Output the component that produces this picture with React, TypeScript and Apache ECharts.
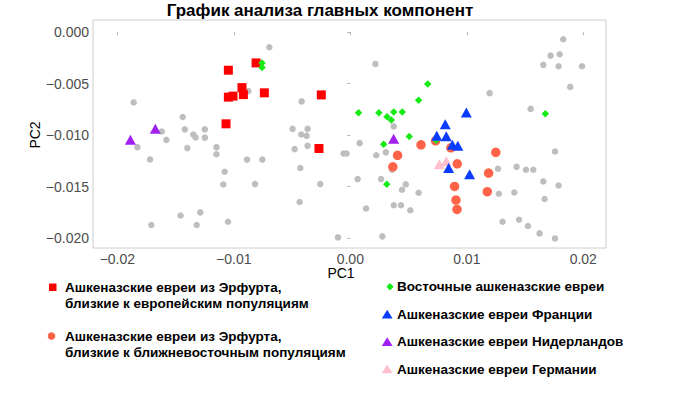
import { useEffect, useRef } from 'react';
import * as echarts from 'echarts';

const FONT = "'Liberation Sans', Arial, Helvetica, sans-serif";

const titleText = 'График анализа главных компонент';
const xAxisTitle = 'PC1';
const yAxisTitle = 'PC2';

const xTicks = [-0.02, -0.01, 0, 0.01, 0.02];
const yTicks = [-0.02, -0.015, -0.01, -0.005, 0];

const seriesNames = [
  'Ашкеназские евреи из Эрфурта,\nблизкие к европейским популяциям',
  'Ашкеназские евреи из Эрфурта,\nблизкие к ближневосточным популяциям',
  'Восточные ашкеназские евреи',
  'Ашкеназские евреи Франции',
  'Ашкеназские евреи Нидерландов',
  'Ашкеназские евреи Германии',
];

const otherPopulations: [number, number][] = [
  [-0.0186, -0.00682], [-0.01439, -0.00824], [-0.01618, -0.00965], [-0.01421, -0.00944],
  [-0.01249, -0.00944], [-0.01348, -0.00994], [-0.01328, -0.01023], [-0.01249, -0.01024],
  [-0.01579, -0.01046], [-0.01828, -0.01117], [-0.01399, -0.01126], [-0.01149, -0.01117],
  [-0.01149, -0.01186], [-0.01719, -0.01237], [-0.00887, -0.01238], [-0.00755, -0.01238],
  [-0.01079, -0.01356], [-0.0109, -0.0148], [-0.00818, -0.01476], [-0.01457, -0.01781],
  [-0.01288, -0.01751], [-0.01708, -0.01874], [-0.01319, -0.01874], [-0.0105, -0.01842],
  [-0.00876, -0.00572], [-0.00695, -0.00146], [-0.00418, -0.00672], [-0.00496, -0.00939],
  [-0.00367, -0.00939], [-0.00421, -0.00994], [-0.00375, -0.01007], [-0.00478, -0.01136],
  [-0.00367, -0.01104], [-0.00429, -0.0132], [-0.00258, -0.01476], [-0.00435, -0.0165],
  [-0.00058, -0.01179], [-0.00032, -0.01179], [0.0008, -0.01078], [0.00215, -0.00308],
  [0.00373, -0.00915], [0.00223, -0.01196], [0.00305, -0.01167], [0.00358, -0.01337],
  [0.00063, -0.01427], [0.00264, -0.01427], [0.00476, -0.01478], [0.00444, -0.01531],
  [0.00586, -0.0156], [0.00135, -0.01713], [0.00373, -0.01682], [0.00435, -0.01682],
  [0.00515, -0.0173], [-0.00106, -0.01994], [0.00275, -0.01984], [0.01196, -0.00592],
  [0.01548, -0.00745], [0.01828, -0.00068], [0.01719, -0.00227], [0.01797, -0.00214],
  [0.01657, -0.00317], [0.01788, -0.0033], [0.01989, -0.0033], [0.01888, -0.00531],
  [0.01757, -0.01159], [0.01268, -0.01327], [0.01427, -0.01308], [0.01508, -0.01337],
  [0.01571, -0.01337], [0.01657, -0.0145], [0.01788, -0.01489], [0.01275, -0.0157],
  [0.01408, -0.01557], [0.01668, -0.01621], [0.01307, -0.01842], [0.01448, -0.01822],
  [0.01525, -0.01883], [0.01625, -0.01955], [0.01757, -0.02004],
];

const erfurtEuropean: [number, number][] = [
  [-0.01047, -0.00369], [-0.00809, -0.00298], [-0.0093, -0.00538], [-0.01047, -0.00631],
  [-0.01007, -0.00621], [-0.00918, -0.00606], [-0.00738, -0.00589], [-0.00249, -0.00609],
  [-0.01067, -0.0089], [-0.00269, -0.0113],
];

const erfurtMiddleEast: [number, number][] = [
  [0.00607, -0.01094], [0.00732, -0.01055], [0.00863, -0.01123], [0.00406, -0.01196],
  [0.00365, -0.01308], [0.00918, -0.01279], [0.00895, -0.01499], [0.00907, -0.01631],
  [0.00916, -0.01722], [0.01187, -0.01369], [0.01176, -0.0155], [0.01249, -0.01167],
];

const easternAshkenazi: [number, number][] = [
  [-0.00758, -0.00298], [-0.00758, -0.00342], [0.00071, -0.00783], [0.00245, -0.00783],
  [0.00315, -0.00822], [0.00352, -0.00854], [0.00373, -0.00774], [0.00446, -0.00774],
  [0.00586, -0.00662], [0.00664, -0.00502], [0.00506, -0.01014], [0.00286, -0.01089],
  [0.00313, -0.01478], [0.00736, -0.0105], [0.01674, -0.00793],
];

const french: [number, number][] = [
  [0.00996, -0.00779], [0.00815, -0.00895], [0.00742, -0.01007], [0.00824, -0.01012],
  [0.00876, -0.01094], [0.00923, -0.01104], [0.00844, -0.0132], [0.01024, -0.01379],
];

const dutch: [number, number][] = [
  [-0.01888, -0.01046], [-0.01674, -0.00939], [0.00372, -0.01036],
];

const german: [number, number][] = [
  [0.00764, -0.01283], [0.00824, -0.01254],
];

const C_GRAY = '#bebebe';
const C_RED = '#ff0000';
const C_TOMATO = '#ff6347';
const C_GREEN = '#16ea16';
const C_BLUE = '#0a3cff';
const C_PURPLE = '#a020f0';
const C_PINK = '#ffc0cb';

const minus = (s: string) => s.replace('-', '\u2212');

export default function App() {
  const ref = useRef<HTMLDivElement>(null);
  useEffect(() => {
    document.body.style.margin = '0';
    const chart = echarts.init(ref.current!, null, { renderer: 'svg' });
    const legendFont = `bold 13.5px ${FONT}`;
    const lx = 65;
    const rx = 397;
    const scatter = (name: string, data: [number, number][], symbol: string, size: number | number[], color: string) => ({
      type: 'scatter', name, data, symbol, symbolSize: size,
      itemStyle: { color, opacity: 1 },
      emphasis: { disabled: true },
    });
    chart.setOption({
      animation: false,
      backgroundColor: '#ffffff',
      textStyle: { fontFamily: FONT },
      grid: {
        left: 93, right: 94, top: 20, bottom: 146,
        show: true, borderColor: '#cccccc', borderWidth: 1, backgroundColor: 'transparent',
      },
      xAxis: {
        type: 'value', min: -0.02209, max: 0.02195,
        axisLine: { show: false },
        splitLine: { show: false },
        axisTick: { show: true, length: 3, lineStyle: { color: '#b0b0b0' }, customValues: xTicks },
        axisLabel: {
          customValues: xTicks, color: '#4d4d4d', fontSize: 14, fontFamily: FONT, margin: 4,
          formatter: (v: number) => minus(v.toFixed(2)),
        },
      },
      yAxis: {
        type: 'value', min: -0.02097, max: 0.00119,
        axisLine: { show: false },
        splitLine: { show: false },
        axisTick: { show: true, length: 3, lineStyle: { color: '#b0b0b0' }, customValues: yTicks },
        axisLabel: {
          customValues: yTicks, color: '#4d4d4d', fontSize: 14, fontFamily: FONT, margin: 4,
          formatter: (v: number) => minus(v.toFixed(3)),
        },
      },
      series: [
        scatter('other', otherPopulations, 'circle', 6.5, C_GRAY),
        scatter(seriesNames[0], erfurtEuropean, 'rect', 9, C_RED),
        scatter(seriesNames[1], erfurtMiddleEast, 'circle', 9.5, C_TOMATO),
        scatter(seriesNames[2], easternAshkenazi, 'diamond', 7.5, C_GREEN),
        scatter(seriesNames[5], german, 'triangle', [11, 10], C_PINK),
        scatter(seriesNames[3], french, 'triangle', [11, 10], C_BLUE),
        scatter(seriesNames[4], dutch, 'triangle', [11, 10], C_PURPLE),
      ],
      graphic: [
        { type: 'text', x: 320, y: 10, style: { text: titleText, font: `bold 17px ${FONT}`, fill: '#000', align: 'center', verticalAlign: 'middle' } },
        { type: 'text', x: 341, y: 273, style: { text: xAxisTitle, font: `14px ${FONT}`, fill: '#000', align: 'center', verticalAlign: 'middle' } },
        { type: 'text', x: 35, y: 135, rotation: Math.PI / 2, style: { text: yAxisTitle, font: `14px ${FONT}`, fill: '#000', align: 'center', verticalAlign: 'middle' } },
        // legend left column
        { type: 'rect', shape: { x: 49, y: 283.5, width: 7.5, height: 7.5 }, style: { fill: C_RED } },
        { type: 'text', x: lx, y: 279, style: { text: seriesNames[0], font: legendFont, lineHeight: 16, fill: '#000', verticalAlign: 'top' } },
        { type: 'circle', shape: { cx: 51.5, cy: 336, r: 3.8 }, style: { fill: C_TOMATO } },
        { type: 'text', x: lx, y: 328.5, style: { text: seriesNames[1], font: legendFont, lineHeight: 16, fill: '#000', verticalAlign: 'top' } },
        // legend right column
        { type: 'polygon', shape: { points: [[390, 283], [393.6, 286.7], [390, 290.4], [386.4, 286.7]] }, style: { fill: C_GREEN } },
        { type: 'text', x: rx, y: 286.7, style: { text: seriesNames[2], font: legendFont, fill: '#000', verticalAlign: 'middle' } },
        { type: 'polygon', shape: { points: [[387.2, 309.8], [392.6, 318.6], [381.8, 318.6]] }, style: { fill: C_BLUE } },
        { type: 'text', x: rx, y: 314.3, style: { text: seriesNames[3], font: legendFont, fill: '#000', verticalAlign: 'middle' } },
        { type: 'polygon', shape: { points: [[387.2, 337.2], [392.6, 346], [381.8, 346]] }, style: { fill: C_PURPLE } },
        { type: 'text', x: rx, y: 341.7, style: { text: seriesNames[4], font: legendFont, fill: '#000', verticalAlign: 'middle' } },
        { type: 'polygon', shape: { points: [[387.2, 364.5], [392.6, 373.3], [381.8, 373.3]] }, style: { fill: C_PINK } },
        { type: 'text', x: rx, y: 369, style: { text: seriesNames[5], font: legendFont, fill: '#000', verticalAlign: 'middle' } },
      ],
    });
    return () => chart.dispose();
  }, []);
  return <div ref={ref} style={{ position: 'absolute', left: 0, top: 0, width: 700, height: 394 }} />;
}
